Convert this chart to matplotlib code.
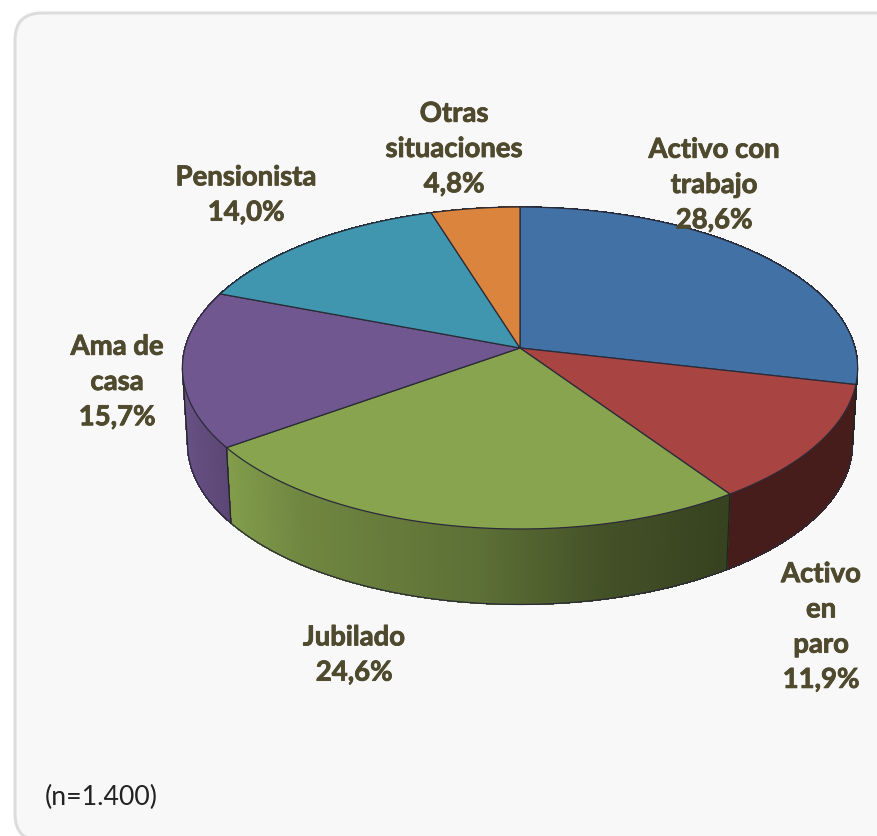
import matplotlib
matplotlib.use("Agg")
import matplotlib.pyplot as plt
import matplotlib.patheffects as pe
import numpy as np
from matplotlib.collections import PolyCollection
from matplotlib.patches import FancyBboxPatch

labels = ["Activo con\ntrabajo\n28,6%", "Activo\nen\nparo\n11,9%", "Jubilado\n24,6%",
          "Ama de\ncasa\n15,7%", "Pensionista\n14,0%", "Otras\nsituaciones\n4,8%"]
# slice sizes as measured on the picture: the printed labels add up to 99,6 and
# the Pensionista slice is drawn a bit wider than its 14,0% label
values = [28.6, 11.9, 24.6, 15.7, 14.4, 4.8]
colors = ["#4271a6", "#a84442", "#88a44f", "#70578f", "#3f96ae", "#db843d"]
label_pos = [(714, 186), (821, 628), (354, 656), (117, 383), (246, 196), (454, 150)]
note = "(n=1.400)"

CX, CY = 520.0, 349.0
A, B, K = 335.0, 158.5, 0.1242
DEPTH = 75.5
TEXT_COLOR = "#4f4a2e"
LINE_COLOR = "#2b2b38"


def project(theta):
    # circle seen in perspective, theta clockwise from 12 o'clock
    u = np.sin(theta)
    v = -np.cos(theta)
    d = 1 - K * v
    return CX + A * u / d, CY + B * v / d


def lower(theta):
    x, y = project(theta)
    return CX + (x - CX) * 0.985, y + DEPTH


def shade(i, x):
    if i == 2:
        return np.interp(x, [230, 300, 480, 600, 727], [0.95, 0.82, 0.68, 0.5, 0.4])
    if i == 3:
        return np.interp(x, [183, 230], [0.92, 0.8])
    return np.full_like(x, 0.42)


fig = plt.figure(figsize=(8.77, 8.37), dpi=100)
ax = fig.add_axes([0, 0, 1, 1])
ax.axis("off")
ax.set_xlim(0, 877)
ax.set_ylim(837, 0)

ax.add_patch(FancyBboxPatch((40, 39), 900, 778, boxstyle="round,pad=25,rounding_size=27",
                            fc="#f8f8f8", ec="#dcdcdc", lw=2.2))

edges = np.radians(np.concatenate([[0], np.cumsum(values)]) / np.sum(values) * 360)

# walls first, the top covers the back part of them
for i in range(len(values)):
    th = np.linspace(edges[i], edges[i + 1], 500)
    x, y = project(th)
    xb, yb = lower(th)
    quads = [[(x[j], y[j]), (x[j + 1], y[j + 1]), (xb[j + 1], yb[j + 1]), (xb[j], yb[j])]
             for j in range(len(th) - 1)]
    base = np.array(matplotlib.colors.to_rgb(colors[i]))
    face = shade(i, x[:-1])[:, None] * base
    ax.add_collection(PolyCollection(quads, facecolors=face, edgecolors=face, linewidths=0.5,
                                     antialiaseds=False, zorder=2))

# front outline of the wall
th = np.linspace(0, 2 * np.pi, 1441)
x, y = project(th)
left = th[np.argmin(x)]
right = th[np.argmax(x)]
th = np.linspace(right, left, 400)
xb, yb = lower(th)
ax.plot(xb, yb, color=LINE_COLOR, lw=0.9, zorder=3)
for e in [right, edges[2], edges[3], left]:
    x0, y0 = project(e)
    x1, y1 = lower(e)
    ax.plot([x0, x1], [y0, y1], color="#20261a", lw=0.9, zorder=3)

# top of the pie
for i in range(len(values)):
    th = np.linspace(edges[i], edges[i + 1], 120)
    x, y = project(th)
    ax.fill(np.r_[CX, x], np.r_[CY, y], fc=colors[i], ec=LINE_COLOR, lw=0.9,
            joinstyle="round", zorder=4)

for lab, (px, py) in zip(labels, label_pos):
    ax.text(px, py, lab, ha="center", va="center", fontsize=19.8, fontweight="bold",
            family="Lato", color=TEXT_COLOR, linespacing=1.44, zorder=5,
            path_effects=[pe.withStroke(linewidth=0.6, foreground=TEXT_COLOR)])

ax.text(45, 797, note, ha="left", va="center", fontsize=19.2, family="Lato", color="#222222")

fig.savefig("out.png", dpi=100)
